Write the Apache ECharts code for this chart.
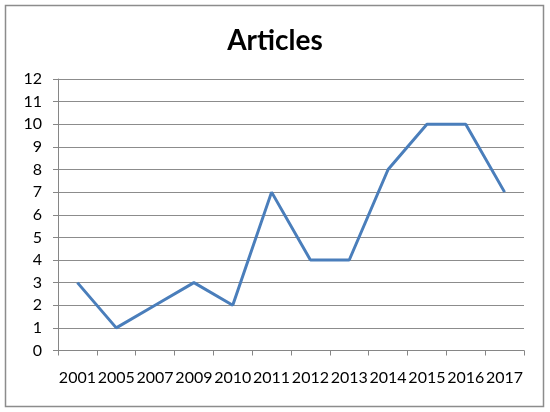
<!DOCTYPE html>
<html><head><meta charset="utf-8">
<script src="https://cdn.jsdelivr.net/npm/echarts@6/dist/echarts.min.js"></script>
<style>html,body{margin:0;padding:0;background:#fff}#c{width:550px;height:412px}</style>
</head><body><div id="c"></div>
<script>
const categories = ['2001','2005','2007','2009','2010','2011','2012','2013','2014','2015','2016','2017'];
const articles = [3,1,2,3,2,7,4,4,8,10,10,7];
const chart = echarts.init(document.getElementById('c'));
const font = 'Lato, "Open Sans", sans-serif';
chart.setOption({
  animation:false,
  backgroundColor:'#fff',
  title:{text:'Articles',left:'center',top:22,textStyle:{fontFamily:font,fontSize:28,fontWeight:'bold',color:'#000'}},
  graphic:[{type:'rect',shape:{x:5.5,y:5.5,width:538,height:401},style:{fill:'none',stroke:'#8c8c8c',lineWidth:1.5},silent:true}],
  grid:{left:58,right:26,top:79,bottom:61.5},
  xAxis:{type:'category',data:categories,boundaryGap:true,
    axisLine:{lineStyle:{color:'#868686',width:1}},
    axisTick:{show:true,length:5,lineStyle:{color:'#868686'}},
    axisLabel:{fontFamily:font,fontSize:16,color:'#000',margin:19,interval:0}},
  yAxis:{type:'value',min:0,max:12,interval:1,
    axisLine:{show:true,lineStyle:{color:'#868686'}},
    axisTick:{show:true,length:5,lineStyle:{color:'#868686'}},
    splitLine:{lineStyle:{color:'#8c8c8c',width:1}},
    axisLabel:{fontFamily:font,fontSize:16,color:'#000',margin:16}},
  series:[{type:'line',data:articles,showSymbol:false,symbol:'none',lineStyle:{color:'#4a7ebb',width:3}}]
});
</script></body></html>
